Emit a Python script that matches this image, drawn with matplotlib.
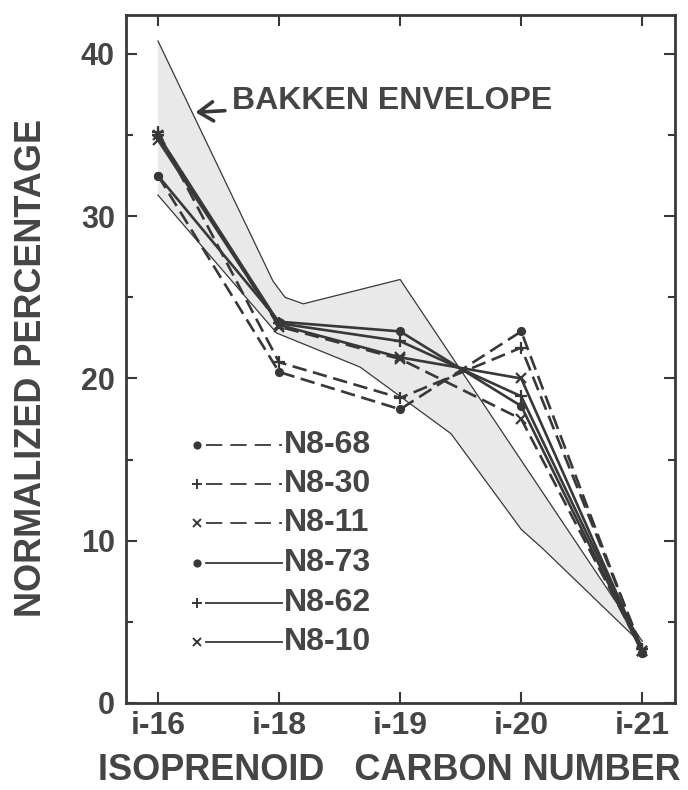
import matplotlib
matplotlib.use("Agg")
import matplotlib.pyplot as plt
from matplotlib.lines import Line2D
import numpy as np

plt.rcParams['font.family'] = ['Liberation Sans', 'DejaVu Sans']
plt.rcParams['font.weight'] = 'bold'

categories = ["i-16", "i-18", "i-19", "i-20", "i-21"]

# Bakken envelope boundaries (x in category-index units)
env_upper_x = [0.0, 0.95, 1.05, 1.2, 2.0, 4.0]
env_upper_y = [40.8, 26.0, 25.0, 24.6, 26.1, 3.8]
env_lower_x = [0.0, 0.98, 1.67, 2.42, 3.0, 3.18, 4.0]
env_lower_y = [31.3, 22.8, 20.7, 16.6, 10.7, 9.5, 3.6]

series_names = ["N8-68", "N8-30", "N8-11", "N8-73", "N8-62", "N8-10"]
n8_68 = [32.5, 20.4, 18.1, 22.9, 3.1]
n8_30 = [35.2, 21.0, 18.8, 21.9, 3.3]
n8_11 = [35.0, 23.2, 21.2, 17.5, 3.2]
n8_73 = [32.5, 23.5, 22.9, 18.3, 3.1]
n8_62 = [35.0, 23.4, 22.3, 18.9, 3.3]
n8_10 = [34.7, 23.3, 21.3, 20.0, 3.2]
series_values = [n8_68, n8_30, n8_11, n8_73, n8_62, n8_10]
series_markers = ["o", "+", "x", "o", "+", "x"]
series_dashed = [True, True, True, False, False, False]

ink = "#383838"
txt = "#454545"

fig = plt.figure(figsize=(6.88, 7.90), dpi=100)
ax = fig.add_axes([126/688, 1-703/790, 549/688, 688/790])

# envelope shading
poly_x = np.concatenate([env_upper_x, env_lower_x[::-1]])
poly_y = np.concatenate([env_upper_y, env_lower_y[::-1]])
ax.fill(poly_x, poly_y, color="#e9e9e9", lw=0, zorder=1)
ax.plot(env_upper_x, env_upper_y, color=ink, lw=0.9, zorder=2)
ax.plot(env_lower_x, env_lower_y, color=ink, lw=0.9, zorder=2)

x = np.arange(len(categories))
msize = {"o": 5, "+": 8, "x": 7}
for vals, mk, dashed in zip(series_values, series_markers, series_dashed):
    ls = (0, (5.5, 2.5)) if dashed else "-"
    ax.plot(x, vals, color=ink, lw=1.9, ls=ls, marker=mk, ms=msize[mk],
            mew=1.6, mfc=ink, mec=ink, zorder=3)

# custom legend (marker at left end of line)
rows_y = [0.375, 0.318, 0.262, 0.203, 0.145, 0.089]
for name, mk, dashed, yy in zip(series_names, series_markers, series_dashed, rows_y):
    ax.add_line(Line2D([0.129], [yy], transform=ax.transAxes, marker=mk,
                       ms={"o": 4.5, "+": 7, "x": 5.5}[mk], mew=1.4,
                       color=ink, mfc=ink, ls="none", zorder=4))
    ax.add_line(Line2D([0.145, 0.284], [yy, yy], transform=ax.transAxes,
                       color=ink, lw=1.3,
                       ls=(0, (9, 4.5)) if dashed else "-", zorder=4))
    ax.text(0.287, yy, name, transform=ax.transAxes, fontsize=23,
            fontweight="bold", color=txt, va="center", ha="left")

# Bakken envelope annotation
ax.annotate("BAKKEN ENVELOPE", xy=(0.31, 36.4), xytext=(0.61, 37.1),
            fontsize=23, fontweight="bold", color=txt, va="center", ha="left",
            arrowprops=dict(arrowstyle="->,head_length=0.45,head_width=0.3",
                            color=ink, lw=2.6, shrinkA=3, shrinkB=0))

ax.set_xlim(-0.264, 4.27)
ax.set_ylim(0, 42.4)
ax.set_xticks(x)
ax.set_xticklabels(categories)
ax.set_yticks([0, 10, 20, 30, 40])
ax.set_yticks([5, 15, 25, 35], minor=True)
ax.tick_params(axis="both", which="both", direction="in", top=True, right=True,
               colors=ink, labelcolor=txt, width=1.5)
ax.tick_params(axis="both", which="major", length=8)
ax.tick_params(axis="y", which="major", labelsize=22)
ax.tick_params(axis="x", which="major", labelsize=23)
ax.tick_params(axis="y", which="minor", length=5)
ax.tick_params(axis="x", pad=6)
ax.tick_params(axis="y", pad=8)
for lab in ax.get_xticklabels() + ax.get_yticklabels():
    lab.set_fontweight("bold")
for sp in ax.spines.values():
    sp.set_color(ink)
    sp.set_linewidth(2.0)

fig.text(389/688, 1-771/790, "ISOPRENOID   CARBON NUMBER", fontsize=26,
         fontweight="bold", color=txt, ha="center", va="center")
fig.text(32/688, 1-368/790, "NORMALIZED PERCENTAGE", fontsize=26,
         fontweight="bold", color=txt, ha="center", va="center", rotation=90)

fig.savefig("out.png", dpi=100)
